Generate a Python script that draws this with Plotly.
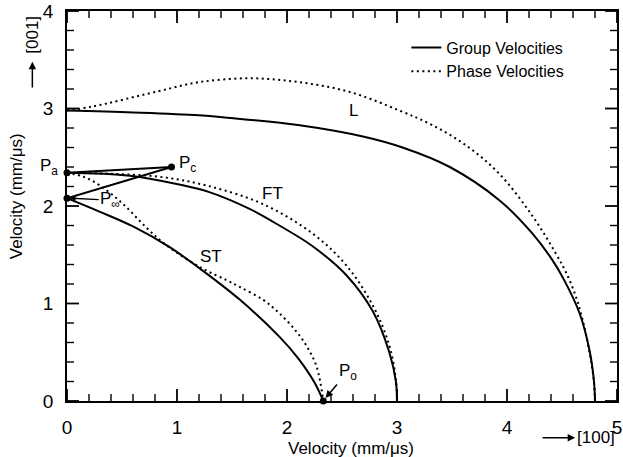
import plotly.graph_objects as go

# ---- data ----
L_group_x = [0, 0.6, 1.2, 1.6, 2.1, 2.7, 3.05, 3.48, 3.93, 4.23, 4.41, 4.52, 4.66, 4.75, 4.79, 4.80]
L_group_y = [2.98, 2.96, 2.93, 2.89, 2.83, 2.71, 2.60, 2.40, 2.06, 1.72, 1.45, 1.24, 0.90, 0.52, 0.21, 0]

L_phase_x = [0, 0.23, 0.84, 1.2, 1.66, 2.11, 2.57, 3.02, 3.32, 3.63, 3.93, 4.23, 4.44, 4.54, 4.63, 4.69, 4.75, 4.79, 4.80]
L_phase_y = [2.98, 3.02, 3.18, 3.27, 3.31, 3.27, 3.17, 2.98, 2.83, 2.62, 2.33, 1.90, 1.52, 1.31, 1.06, 0.82, 0.50, 0.20, 0]

FT_group_x = [0, 0.57, 1.02, 1.30, 1.66, 1.93, 2.23, 2.54, 2.78, 2.93, 2.99, 3.0]
FT_group_y = [2.34, 2.31, 2.22, 2.14, 1.97, 1.80, 1.59, 1.29, 0.92, 0.50, 0.20, 0]

FT_phase_x = [0, 0.4, 0.84, 1.27, 1.78, 2.23, 2.54, 2.78, 2.93, 2.99, 3.0]
FT_phase_y = [2.34, 2.33, 2.30, 2.21, 2.02, 1.72, 1.39, 0.98, 0.57, 0.22, 0]

ST_group_x = [0, 0.3, 0.6, 0.93, 1.23, 1.57, 1.93, 2.10, 2.25, 2.33]
ST_group_y = [2.08, 1.94, 1.79, 1.58, 1.34, 1.04, 0.66, 0.44, 0.19, 0]

ST_phase_x = [0, 0.15, 0.30, 0.51, 0.72, 0.90, 1.23, 1.45, 1.57, 1.78, 1.93, 2.08, 2.18, 2.27, 2.33]
ST_phase_y = [2.34, 2.30, 2.21, 2.02, 1.78, 1.60, 1.36, 1.24, 1.17, 1.04, 0.90, 0.72, 0.56, 0.35, 0]

# cusp lines (group velocity caustic)
cusp1_x = [0, 0.95]
cusp1_y = [2.34, 2.40]
cusp2_x = [0, 0.95]
cusp2_y = [2.08, 2.40]

point_names = ["Pa", "Pinf", "Pc", "P0"]
point_x = [0, 0, 0.95, 2.33]
point_y = [2.34, 2.08, 2.40, 0]

# axis ticks
x_major_ticks = [0, 1, 2, 3, 4, 5]
x_minor_ticks = [0.2, 0.4, 0.6, 0.8, 1.2, 1.4, 1.6, 1.8, 2.2, 2.4, 2.6, 2.8,
                 3.2, 3.4, 3.6, 3.8, 4.2, 4.4, 4.6, 4.8]
y_major_ticks = [0, 1, 2, 3, 4]
y_minor_ticks = [0.2, 0.4, 0.6, 0.8, 1.2, 1.4, 1.6, 1.8, 2.2, 2.4, 2.6, 2.8,
                 3.2, 3.4, 3.6, 3.8]
x_range = [0, 5]
y_range = [0, 4]

W, H = 623, 457
MARGIN = dict(l=67, r=6, t=11, b=56)
PLOT_W = W - MARGIN["l"] - MARGIN["r"]
PLOT_H = H - MARGIN["t"] - MARGIN["b"]
X_PER_PX = (x_range[1] - x_range[0]) / PLOT_W
Y_PER_PX = (y_range[1] - y_range[0]) / PLOT_H

FONT = "Liberation Sans, Arial, sans-serif"
solid = dict(color="black", width=2)
dotted = dict(color="black", width=2, dash="2px,3.5px")

fig = go.Figure()

groups = [(L_group_x, L_group_y), (FT_group_x, FT_group_y), (ST_group_x, ST_group_y)]
phases = [(L_phase_x, L_phase_y), (FT_phase_x, FT_phase_y), (ST_phase_x, ST_phase_y)]

for i, (xs, ys) in enumerate(groups):
    fig.add_trace(go.Scatter(x=xs, y=ys, mode="lines", line=dict(**solid, shape="spline", smoothing=1.0),
                             name="Group Velocities", legendgroup="g", showlegend=(i == 0)))
for i, (xs, ys) in enumerate(phases):
    fig.add_trace(go.Scatter(x=xs, y=ys, mode="lines", line=dict(**dotted, shape="spline", smoothing=1.0),
                             name="Phase Velocities", legendgroup="p", showlegend=(i == 0)))

for xs, ys in [(cusp1_x, cusp1_y), (cusp2_x, cusp2_y)]:
    fig.add_trace(go.Scatter(x=xs, y=ys, mode="lines", line=solid, showlegend=False))

fig.add_trace(go.Scatter(x=point_x, y=point_y, mode="markers", text=point_names,
                         marker=dict(color="black", size=7), showlegend=False, cliponaxis=False))


# inside tick marks on all four sides, built from the tick value lists
def tick_segments(x_vals, y_vals, len_px):
    xs, ys = [], []
    lx = len_px * X_PER_PX
    ly = len_px * Y_PER_PX
    for v in x_vals:
        xs += [v, v, None, v, v, None]
        ys += [y_range[0], y_range[0] + ly, None, y_range[1], y_range[1] - ly, None]
    for v in y_vals:
        xs += [x_range[0], x_range[0] + lx, None, x_range[1], x_range[1] - lx, None]
        ys += [v, v, None, v, v, None]
    return xs, ys


for xv, yv, len_px, w in [(x_major_ticks, y_major_ticks, 12, 1.8),
                          (x_minor_ticks, y_minor_ticks, 7, 1.4)]:
    tx, ty = tick_segments(xv, yv, len_px)
    fig.add_trace(go.Scatter(x=tx, y=ty, mode="lines", line=dict(color="black", width=w),
                             showlegend=False, hoverinfo="skip", connectgaps=False))

afont = dict(family=FONT, size=17, color="black")
arrow = dict(arrowhead=2, arrowsize=1, arrowwidth=1.5, arrowcolor="black")
dom = dict(xref="x domain", yref="y domain", axref="x domain", ayref="y domain")
annotations = [
    dict(x=2.6, y=2.98, xref="x", yref="y", text="L", showarrow=False, font=afont),
    dict(x=1.87, y=2.13, xref="x", yref="y", text="FT", showarrow=False, font=afont),
    dict(x=1.31, y=1.48, xref="x", yref="y", text="ST", showarrow=False, font=afont),
    dict(x=-0.012, y=0.6, xref="paper", yref="paper", text="P<sub>a</sub>", showarrow=False, font=afont,
         xanchor="right", yanchor="middle"),
    dict(x=1.0, y=2.43, xref="x", yref="y", text="P<sub>c</sub>", showarrow=False, font=afont,
         xanchor="left"),
    dict(x=0.03, y=2.08, xref="x", yref="y", text="P<sub>∞</sub>", showarrow=True, font=afont,
         ax=40, ay=2, arrowhead=2, arrowsize=0.8, arrowwidth=1.3, arrowcolor="black"),
    dict(x=2.35, y=0.03, xref="x", yref="y", text="P<sub>o</sub>", showarrow=True, font=afont,
         ax=22, ay=-26, **arrow),
    # axis titles and direction labels
    dict(x=0.517, y=-0.123, xref="paper", yref="paper", text="Velocity (mm/μs)", showarrow=False,
         font=dict(family=FONT, size=17, color="black"), xanchor="center", yanchor="middle"),
    dict(x=1.0, y=-0.094, xref="paper", yref="paper", text="[100]", showarrow=False,
         font=dict(family=FONT, size=17, color="black"), xanchor="right", yanchor="middle"),
    dict(x=0.924, y=-0.094, ax=0.862, ay=-0.094, text="", showarrow=True, **dom, **arrow),
    dict(x=-0.063, y=0.94, xref="paper", yref="paper", text="[001]", showarrow=False,
         font=dict(family=FONT, size=17, color="black"), textangle=-90,
         xanchor="center", yanchor="middle"),
    dict(x=-0.063, y=0.87, ax=-0.063, ay=0.80, text="", showarrow=True, **dom, **arrow),
    dict(x=-0.092, y=0.526, xref="paper", yref="paper", text="Velocity (mm/μs)", showarrow=False,
         font=dict(family=FONT, size=17, color="black"), textangle=-90,
         xanchor="center", yanchor="middle"),
]

base = dict(
    showgrid=False, zeroline=False, showline=True, linecolor="black", linewidth=1.5,
    mirror=True, ticks="", automargin=False, ticklabelstandoff=8,
    tickfont=dict(family=FONT, size=19, color="black"),
)

fig.update_layout(
    width=W, height=H,
    margin=MARGIN,
    paper_bgcolor="white", plot_bgcolor="white",
    font=dict(family=FONT, color="black"),
    xaxis=dict(range=x_range, tickmode="array", tickvals=x_major_ticks, **base),
    yaxis=dict(range=y_range, tickmode="array", tickvals=y_major_ticks, **base),
    legend=dict(x=0.617, y=0.95, xanchor="left", yanchor="top", bgcolor="rgba(0,0,0,0)",
                font=dict(family=FONT, size=16, color="black"), tracegroupgap=0),
    annotations=annotations,
    showlegend=True,
)

fig.write_html("out.html")
